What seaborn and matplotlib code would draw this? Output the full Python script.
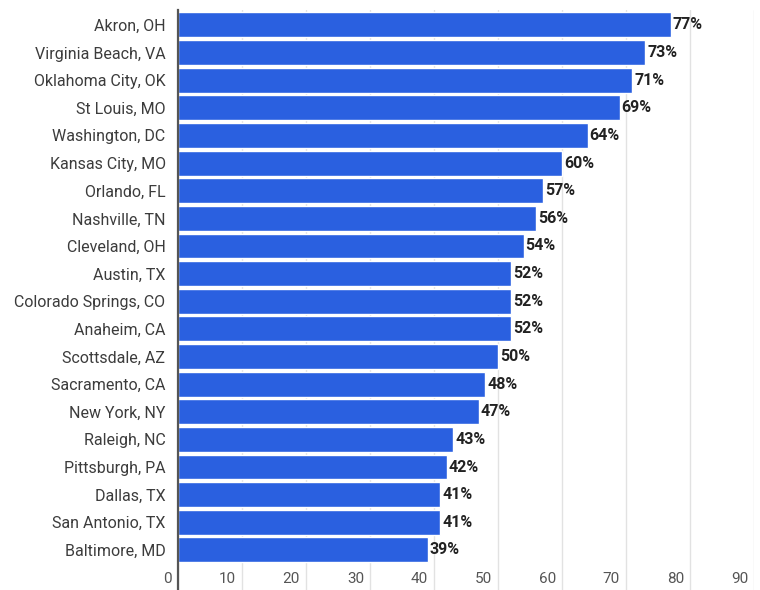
import matplotlib
matplotlib.use("Agg")
import matplotlib.pyplot as plt
from matplotlib.transforms import ScaledTranslation
import seaborn as sns
import pandas as pd

cities = [
    "Akron, OH", "Virginia Beach, VA", "Oklahoma City, OK", "St Louis, MO",
    "Washington, DC", "Kansas City, MO", "Orlando, FL", "Nashville, TN",
    "Cleveland, OH", "Austin, TX", "Colorado Springs, CO", "Anaheim, CA",
    "Scottsdale, AZ", "Sacramento, CA", "New York, NY", "Raleigh, NC",
    "Pittsburgh, PA", "Dallas, TX", "San Antonio, TX", "Baltimore, MD",
]
shares = [77, 73, 71, 69, 64, 60, 57, 56, 54, 52, 52, 52, 50, 48, 47, 43, 42, 41, 41, 39]
x_ticks = [0, 10, 20, 30, 40, 50, 60, 70, 80, 90]

df = pd.DataFrame({"city": cities, "share": shares})

sns.set_theme(style="white")
plt.rcParams["font.family"] = ["Roboto", "DejaVu Sans"]

DPI = 100
fig = plt.figure(figsize=(7.6, 5.9), dpi=DPI)
W, H = 760, 590
left, right, top, bottom = 178, 754, 10, 590
ax = fig.add_axes([left / W, 1 - bottom / H, (right - left) / W, (bottom - top) / H])

bar_color = "#2a60e0"
sns.barplot(data=df, x="share", y="city", color=bar_color, saturation=1,
            width=0.9, orient="h", ax=ax, zorder=3)

# value labels at the end of each bar
for i, v in enumerate(shares):
    ax.text(v + 0.3, i, f"{v}%", va="center", ha="left", fontsize=11.5,
            fontweight="bold", color="#222222", zorder=4)

ax.set_xlim(0, 90)
ax.set_ylim(20.45, -0.54)
ax.set_xlabel("")
ax.set_ylabel("")

ax.set_xticks(x_ticks)
ax.set_xticklabels([str(t) for t in x_ticks])
ax.grid(axis="x", color="#e2e2e2", linewidth=1, zorder=0)
ax.grid(axis="y", visible=False)

ax.tick_params(axis="x", length=0, pad=-13, labelsize=11, labelcolor="#555555")
ax.tick_params(axis="y", length=0, pad=9, labelsize=11.5, labelcolor="#3c3c3c")
shift = ScaledTranslation(-6 / DPI, 0, fig.dpi_scale_trans)
for lbl in ax.get_xticklabels():
    lbl.set_horizontalalignment("right")
    lbl.set_transform(lbl.get_transform() + shift)

for side in ["top", "right", "bottom"]:
    ax.spines[side].set_visible(False)
ax.spines["left"].set_color("#555555")
ax.spines["left"].set_linewidth(1.6)
ax.spines["left"].set_zorder(5)

fig.savefig("out.png", dpi=DPI)
